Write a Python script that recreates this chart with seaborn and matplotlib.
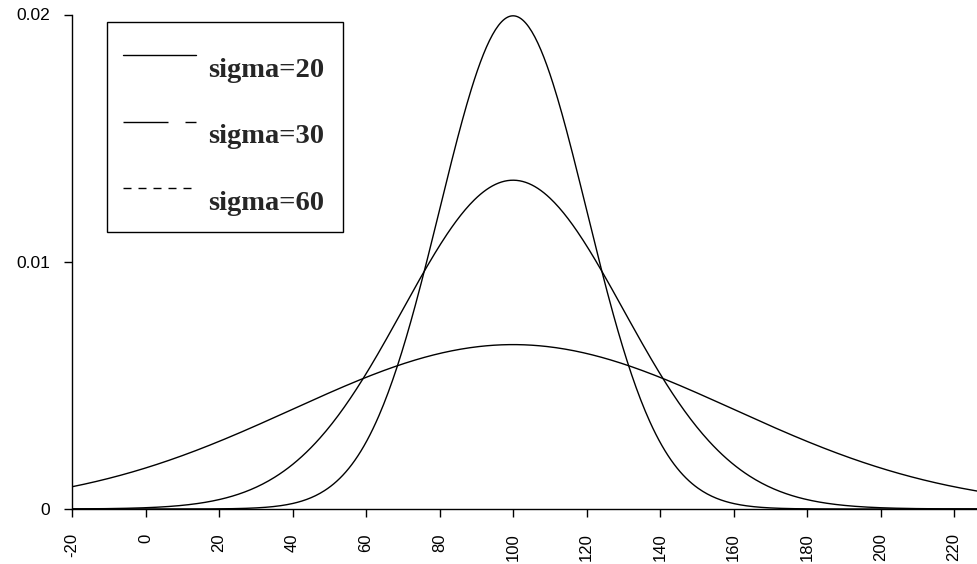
import numpy as np
import pandas as pd
import seaborn as sns
import matplotlib
matplotlib.use("Agg")
import matplotlib.pyplot as plt
from matplotlib.patches import Rectangle
from matplotlib.lines import Line2D

# ---- data ----
mean = 100
sigmas = [20, 30, 60]
labels = ["sigma=20", "sigma=30", "sigma=60"]
x_ticks = [-20, 0, 20, 40, 60, 80, 100, 120, 140, 160, 180, 200, 220]
y_ticks = [0, 0.01, 0.02]
y_tick_labels = ["0", "0.01", "0.02"]
x_min, x_max = -20, 226.5

xs = np.linspace(x_min, x_max, 600)
frames = []
for s, lab in zip(sigmas, labels):
    pdf = np.exp(-0.5 * ((xs - mean) / s) ** 2) / (s * np.sqrt(2 * np.pi))
    frames.append(pd.DataFrame({"x": xs, "density": pdf, "series": lab}))
df = pd.concat(frames, ignore_index=True)

sns.set_style("ticks")
plt.rcParams["font.family"] = ["Liberation Sans", "DejaVu Sans"]

W, H = 978, 564
fig = plt.figure(figsize=(W / 100, H / 100), dpi=100)
left, top_px, bottom_px = 72, 14.5, 509
ax = fig.add_axes([left / W, 1 - bottom_px / H, 1 - left / W, (bottom_px - top_px) / H])

sns.lineplot(data=df, x="x", y="density", units="series", estimator=None,
             color="black", linewidth=1.0, ax=ax, legend=False)

ax.set_xlim(x_min, x_max)
ax.set_ylim(0, 0.02)
ax.set_xticks(x_ticks)
ax.set_xticklabels([str(v) for v in x_ticks], rotation=90, fontsize=12)
ax.set_yticks(y_ticks)
ax.set_yticklabels(y_tick_labels, fontsize=12.5)
ax.tick_params(axis="x", length=5.5, width=1, pad=12, colors="black")
ax.tick_params(axis="y", length=5.5, width=1, pad=10, colors="black")
ax.set_xlabel("")
ax.set_ylabel("")
for side in ["top", "right"]:
    ax.spines[side].set_visible(False)
for side in ["left", "bottom"]:
    ax.spines[side].set_color("black")
    ax.spines[side].set_linewidth(1.0)

# ---- legend (drawn in figure pixel coordinates) ----
def fx(px):
    return px / W

def fy(py):
    return 1 - py / H

PT = 0.72  # points per pixel at 100 dpi
fig.patches.append(Rectangle((fx(107), fy(232)), (343 - 107) / W, (232 - 22) / H,
                             transform=fig.transFigure, fill=False,
                             edgecolor="black", linewidth=1.0))
line_styles = ["-",
               (0, (45 * PT, 17 * PT, 11 * PT, 17 * PT)),
               (0, (8 * PT, 7 * PT))]
line_y = [55, 122, 188]
text_y = [77, 143, 210]
for lab, ls, ly, ty in zip(labels, line_styles, line_y, text_y):
    fig.lines.append(Line2D([fx(123), fx(196)], [fy(ly), fy(ly)],
                            transform=fig.transFigure, color="black",
                            linewidth=1.0, linestyle=ls))
    fig.text(fx(208), fy(ty), lab, fontsize=20.5, fontweight="bold",
             family=["Liberation Serif", "DejaVu Serif"], va="baseline", ha="left")

fig.savefig("out.png", dpi=100)
